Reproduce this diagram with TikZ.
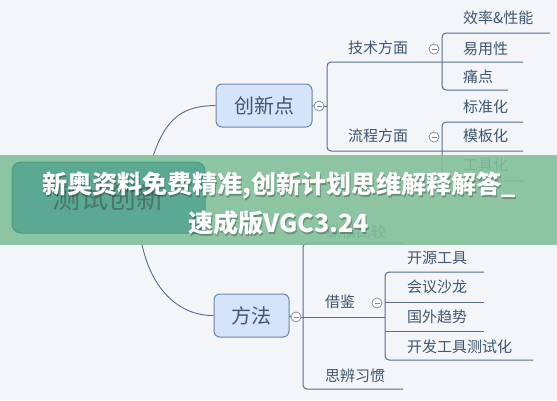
\documentclass[tikz,border=0pt]{standalone}
\usepackage{fontspec}
\newfontfamily\cjk{Noto Sans CJK SC}
\definecolor{bgc}{HTML}{F3F5F9}
\definecolor{linec}{HTML}{566E8A}
\definecolor{txtc}{HTML}{3F5670}
\definecolor{nodefill}{HTML}{D6E4FA}
\definecolor{nodeborder}{HTML}{6A86A8}
\definecolor{bannerc}{HTML}{82BF99}
\definecolor{rootfill}{HTML}{5BA992}
\definecolor{rootborder}{HTML}{4F9A84}
\definecolor{roothalo}{HTML}{8CC5A2}
\definecolor{roottxt}{HTML}{4A7769}
\tikzset{
  conn/.style={draw=linec, line width=1pt, rounded corners=4pt},
  curve/.style={draw=linec, line width=0.9pt},
  item/.style={anchor=west, inner sep=0pt, text=txtc, font=\cjk\fontsize{15}{15}\selectfont},
  topic/.style={draw=nodeborder, fill=nodefill, line width=1pt, rounded corners=6pt, inner sep=0pt, text=txtc, font=\cjk\fontsize{20}{20}\selectfont},
  fold/.style={circle, draw=linec!80, fill=white, line width=0.7pt, minimum size=10pt, inner sep=0pt, path picture={\draw[linec!80, line width=0.7pt] ([xshift=-2.5pt]path picture bounding box.center) -- ([xshift=2.5pt]path picture bounding box.center);}},
  bannertxt/.style={text=white, font=\cjk\bfseries\fontsize{25}{25}\selectfont, inner sep=0pt},
}
\begin{document}
\begin{tikzpicture}[x=1pt, y=-1pt]
\fill[bgc] (0,0) rectangle (557,400);
\useasboundingbox (0,0) rectangle (557,400);

% main topics
\node[topic, minimum width=96pt, minimum height=43pt] (cxd) at (264,105.5) {创新点};
\node[topic, minimum width=75pt, minimum height=43pt] (ff) at (251.5,315.5) {方法};
\node[fold] (f1) at (319,106) {};
\node[fold] (f2) at (296,317) {};
\draw[curve] (cxd.east) -- (f1.west);
\draw[curve] (ff.east) -- (f2.west);

% root connection points
\coordinate (rtop) at (151,163);
\coordinate (rbot) at (140,233);
\draw[curve] (rtop) .. controls (165,115) and (185,106) .. (cxd.west);
\draw[curve] (rbot) .. controls (148,290) and (180,316) .. (ff.west);

% bracket for 创新点
\coordinate (b1t) at (327,62);
\coordinate (b1b) at (327,151);
\draw[conn] (523,62) -- (b1t) -- (b1b) -- (523,151);
\draw[curve] (f1.east) -- (327,106);
\node[item] (js) at (348,48) {技术方面};
\node[item] (lc) at (348,136) {流程方面};
\node[fold] (f3) at (434,49) {};
\node[fold] (f4) at (434,137) {};

% technical sub-bracket
\draw[conn] (550,33) -- (442,33) -- (442,90) -- (508,90);
\node[item] (a1) at (463,18) {效率\&性能};
\node[item] (a2) at (463,49) {易用性};
\node[item] (a3) at (463,77) {痛点};

% process sub-bracket
\draw[conn] (523,122) -- (442,122) -- (442,181) -- (525,181);
\node[item] (p1) at (463,107) {标准化};
\node[item] (p2) at (463,136) {模板化};
\node[item] (p3) at (463,165) {工具化};

% bracket for 方法
\draw[conn] (403,243) -- (303,243) -- (303,389) -- (403,389);
\draw[curve] (f2.east) -- (385,317);
\node[item] (m1) at (326,232) {纵横比较};
\node[item] (m2) at (325,302) {借鉴};
\node[item] (m3) at (325,376) {思辨习惯};
\node[fold] (f5) at (377,303) {};

% 借鉴 sub-bracket
\draw[conn] (484,272) -- (385,272) -- (385,360) -- (533,360);
\draw[curve] (385,302) -- (484,302);
\draw[curve] (385,331) -- (484,331);
\node[item] (j1) at (407,258) {开源工具};
\node[item] (j2) at (407,287) {会议沙龙};
\node[item] (j3) at (407,317) {国外趋势};
\node[item] (j4) at (407,347) {开发工具测试化};

% banner
\fill[bannerc, opacity=0.9] (0,155) rectangle (557,245);
\fill[roothalo, rounded corners=10pt] (8,157) rectangle (211,240);
\node[draw=rootborder, fill=rootfill, line width=1pt, rounded corners=9pt, minimum width=193pt, minimum height=71pt, inner sep=0pt, text=roottxt, font=\cjk\fontsize{28}{28}\selectfont] (root) at (108.5,197.5) {测试创新};

% banner text
\node[bannertxt, text=black, opacity=0.25] (s1) at (280.5,187.5) {新奥资料免费精准,创新计划思维解释解答\_};
\node[bannertxt, text=black, opacity=0.25] (s2) at (279.5,224.5) {速成版VGC3.24};
\node[bannertxt] (t1) at (279.5,186) {新奥资料免费精准,创新计划思维解释解答\_};
\node[bannertxt] (t2) at (278.5,223) {速成版VGC3.24};
\end{tikzpicture}
\end{document}
